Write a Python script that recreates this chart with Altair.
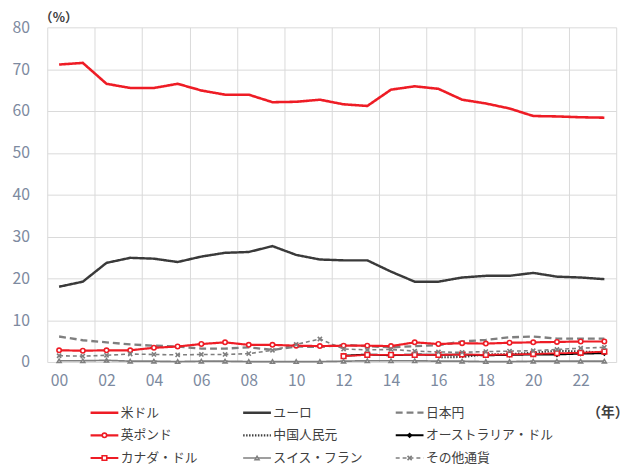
import altair as alt
import pandas as pd

years = list(range(2000, 2024))

usd = [71.1, 71.5, 66.5, 65.5, 65.5, 66.5, 64.9, 63.9, 63.9, 62.1, 62.2, 62.7,
       61.6, 61.2, 65.1, 65.9, 65.3, 62.7, 61.8, 60.6, 58.8, 58.7, 58.5, 58.4]
eur = [18.0, 19.2, 23.7, 24.9, 24.7, 23.9, 25.2, 26.1, 26.3, 27.7, 25.6, 24.5,
       24.3, 24.3, 21.6, 19.2, 19.2, 20.2, 20.6, 20.6, 21.3, 20.4, 20.2, 19.8]
jpy = [6.1, 5.2, 4.7, 4.2, 3.9, 3.7, 3.2, 3.2, 3.5, 2.9, 3.7, 3.6,
       4.1, 3.8, 3.5, 3.8, 4.0, 4.9, 5.3, 5.9, 6.1, 5.6, 5.6, 5.6]
gbp = [2.8, 2.7, 2.8, 2.8, 3.4, 3.7, 4.3, 4.7, 4.1, 4.1, 3.9, 3.8,
       3.9, 3.9, 3.8, 4.7, 4.3, 4.5, 4.4, 4.6, 4.7, 4.8, 4.9, 4.9]
cny = [None] * 16 + [1.1, 1.2, 1.8, 1.9, 2.2, 2.7, 2.5, 2.3]
aud = [None] * 12 + [1.5, 1.8, 1.6, 1.8, 1.7, 1.8, 1.6, 1.7, 1.8, 1.8, 2.0, 2.1]
cad = [None] * 12 + [1.4, 1.7, 1.7, 1.7, 1.7, 1.8, 1.7, 1.8, 1.9, 2.1, 2.2, 2.5]
chf = [0.3, 0.3, 0.4, 0.2, 0.2, 0.1, 0.2, 0.2, 0.1, 0.1, 0.1, 0.1,
       0.2, 0.3, 0.3, 0.3, 0.2, 0.2, 0.1, 0.1, 0.2, 0.2, 0.2, 0.2]
oth = [1.5, 1.4, 1.6, 1.9, 1.8, 1.7, 1.8, 1.8, 2.0, 2.8, 4.2, 5.5,
       3.1, 2.9, 3.0, 2.6, 2.4, 2.3, 2.5, 2.6, 2.7, 3.0, 3.3, 3.5]

names = ["米ドル", "ユーロ", "日本円",
         "英ポンド", "中国人民元", "オーストラリア・ドル",
         "カナダ・ドル", "スイス・フラン", "その他通貨"]
series = [usd, eur, jpy, gbp, cny, aud, cad, chf, oth]

RED = "#EE1C25"
colors = [RED, "#3A3A3A", "#7F7F7F", RED, "#404040", "#000000", RED, "#7F7F7F", "#7F7F7F"]
dashes = [[1, 0], [1, 0], [7, 4], [1, 0], [1.5, 1.5], [1, 0], [1, 0], [1, 0], [4, 3]]
widths = [2.6, 1.6, 2.2, 2.0, 1.6, 2.2, 2.0, 1.5, 1.8]

red_names = ["米ドル", "英ポンド", "カナダ・ドル"]
marker_names = ["オーストラリア・ドル", "スイス・フラン", "その他通貨", "英ポンド", "カナダ・ドル"]
marker_shapes = ["diamond", "triangle-up", "M-1,-1L1,1M-1,1L1,-1", "circle", "square"]
marker_fills = ["#000000", "#FFFFFF", "#7F7F7F", "#FFFFFF", "#FFFFFF"]
marker_sizes = [14, 22, 22, 38, 32]

rows = []
for n, vals in zip(names, series):
    for y, v in zip(years, vals):
        if v is not None:
            rows.append({"currency": n, "year": y, "value": v})
df = pd.DataFrame(rows)

legend_df = pd.DataFrame({
    "currency": names,
    "col": [i % 3 for i in range(len(names))],
    "row": [i // 3 for i in range(len(names))],
})

FONT = "Noto Sans CJK JP"
LABEL = "#7D8AA0"

color_s = alt.Scale(domain=names, range=colors)
dash_s = alt.Scale(domain=names, range=dashes)
width_s = alt.Scale(domain=names, range=widths)
shape_s = alt.Scale(domain=marker_names, range=marker_shapes)
fill_s = alt.Scale(domain=marker_names, range=marker_fills)
size_s = alt.Scale(domain=marker_names, range=marker_sizes)

grid_vals = [y - 0.5 for y in range(2000, 2025, 2)]

x_enc = alt.X(
    "year:Q",
    scale=alt.Scale(domain=[1999.5, 2023.5], nice=False, zero=False),
    axis=alt.Axis(
        values=grid_vals, title=None, grid=True, gridColor="#D9D9D9",
        ticks=False, domain=False, labelFlush=False, labelOverlap=False,
        labelExpr="datum.value < 2023 ? substring(toString(datum.value + 0.5), 2, 4) : ''",
        labelOffset=12, labelFontSize=16, labelColor=LABEL, labelPadding=11,
    ),
)
y_enc = alt.Y(
    "value:Q",
    scale=alt.Scale(domain=[0, 80], nice=False),
    axis=alt.Axis(
        values=list(range(0, 81, 10)), title="（%）", grid=True, gridColor="#D9D9D9",
        ticks=False, domain=False, labelFontSize=16, labelColor=LABEL, labelPadding=18,
        titleAngle=0, titleAlign="left", titleBaseline="bottom", titleX=-8, titleY=-3,
        titleFontSize=13, titleFontWeight="bold", titleColor="#404040",
    ),
)

base = alt.Chart(df)
line_enc = dict(
    x=x_enc, y=y_enc,
    stroke=alt.Stroke("currency:N", scale=color_s, legend=None),
    strokeDash=alt.StrokeDash("currency:N", scale=dash_s, legend=None),
    strokeWidth=alt.StrokeWidth("currency:N", scale=width_s, legend=None),
)
gray_lines = base.transform_filter(
    alt.FieldOneOfPredicate(field="currency", oneOf=[n for n in names if n not in red_names])
).mark_line(strokeCap="butt").encode(**line_enc)
red_lines = base.transform_filter(
    alt.FieldOneOfPredicate(field="currency", oneOf=red_names)
).mark_line(strokeCap="butt").encode(**line_enc)
points = base.transform_filter(
    alt.FieldOneOfPredicate(field="currency", oneOf=marker_names)
).mark_point(filled=False, opacity=1, strokeWidth=1.6).encode(
    x=x_enc, y=y_enc,
    stroke=alt.Stroke("currency:N", scale=color_s, legend=None),
    shape=alt.Shape("currency:N", scale=shape_s, legend=None),
    fill=alt.Fill("currency:N", scale=fill_s, legend=None),
    size=alt.Size("currency:N", scale=size_s, legend=None),
)
main = alt.layer(gray_lines, red_lines, points).properties(width=578, height=340)

# legend panel
lx = alt.Scale(domain=[-0.2839, 3.445], nice=False, zero=False)
ly = alt.Scale(domain=[-0.5, 2.5], nice=False, zero=False, reverse=True)
leg_x_axis = alt.Axis(
    orient="top", title="（年）", labels=False, ticks=False, domain=False, grid=False,
    titleFontSize=14, titleColor="#404040", titleFontWeight="bold",
    titleAnchor="end", titleAlign="right", titleX=590, titleY=11.5,
    titleBaseline="middle",
)
lbase = alt.Chart(legend_df).transform_calculate(
    x2="datum.col + 0.182", xm="datum.col + 0.091", xt="datum.col + 0.198"
)
leg_lines = lbase.mark_rule(strokeCap="butt").encode(
    x=alt.X("col:Q", scale=lx, axis=leg_x_axis),
    x2="x2:Q",
    y=alt.Y("row:Q", scale=ly, axis=None),
    stroke=alt.Stroke("currency:N", scale=color_s, legend=None),
    strokeDash=alt.StrokeDash("currency:N", scale=dash_s, legend=None),
    strokeWidth=alt.StrokeWidth("currency:N", scale=width_s, legend=None),
)
leg_points = lbase.transform_filter(
    alt.FieldOneOfPredicate(field="currency", oneOf=marker_names)
).mark_point(filled=False, opacity=1, strokeWidth=1.6).encode(
    x=alt.X("xm:Q", scale=lx, axis=leg_x_axis),
    y=alt.Y("row:Q", scale=ly, axis=None),
    stroke=alt.Stroke("currency:N", scale=color_s, legend=None),
    shape=alt.Shape("currency:N", scale=shape_s, legend=None),
    fill=alt.Fill("currency:N", scale=fill_s, legend=None),
    size=alt.Size("currency:N", scale=size_s, legend=None),
)
leg_text = lbase.mark_text(align="left", baseline="middle", fontSize=13,
                           color="#404040", font=FONT).encode(
    x=alt.X("xt:Q", scale=lx, axis=leg_x_axis),
    y=alt.Y("row:Q", scale=ly, axis=None),
    text="currency:N",
)
legend = alt.layer(leg_lines, leg_points, leg_text).properties(width=578, height=69)

chart = alt.vconcat(main, legend, spacing=13).resolve_scale(
    x="independent", y="independent"
).properties(
    padding={"left": 12, "top": 8, "right": 2, "bottom": 0},
    background="white",
).configure(font=FONT).configure_view(stroke=None)

chart.save("out.html", embed_options={"renderer": "svg", "actions": False})
